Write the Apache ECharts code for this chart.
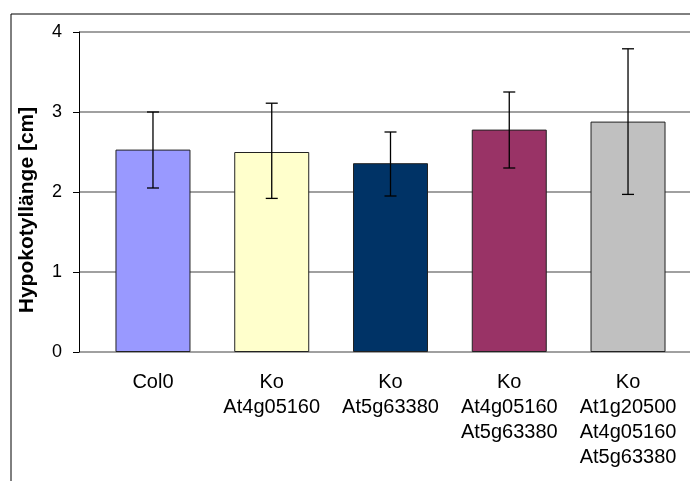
<!DOCTYPE html>
<html>
<head>
<meta charset="utf-8">
<script src="https://cdn.jsdelivr.net/npm/echarts@6/dist/echarts.min.js"></script>
<style>html,body{margin:0;padding:0;background:#fff}#c{width:690px;height:481px}</style>
</head>
<body>
<div id="c"></div>
<script>
const categories = ['Col0', 'Ko\nAt4g05160', 'Ko\nAt5g63380', 'Ko\nAt4g05160\nAt5g63380', 'Ko\nAt1g20500\nAt4g05160\nAt5g63380'];
const means = [2.53, 2.50, 2.36, 2.78, 2.88];
const errLow = [2.05, 1.92, 1.95, 2.30, 1.97];
const errHigh = [3.00, 3.11, 2.75, 3.25, 3.79];
const barColors = ['#9999FF', '#FFFFCC', '#003366', '#993366', '#C0C0C0'];
const yTicks = [0, 1, 2, 3, 4];

const chart = echarts.init(document.getElementById('c'), null, {renderer: 'canvas'});
const font = 'Liberation Sans, Arial, sans-serif';
chart.setOption({
  animation: false,
  backgroundColor: '#fff',
  graphic: [{
    type: 'rect', shape: {x: 11, y: 14, width: 800, height: 600},
    style: {fill: 'none', stroke: '#000', lineWidth: 1}, z: 100
  }],
  grid: [
    {left: 79, right: 0, top: 32, bottom: 129},
    {left: 93.6, width: 593.8, top: 32, bottom: 129}
  ],
  xAxis: [
    {gridIndex: 0, type: 'value', show: false, min: 0, max: 1},
    {gridIndex: 1, type: 'category', data: categories,
     axisLine: {show: false}, axisTick: {show: false},
     axisLabel: {fontFamily: font, fontSize: 20, color: '#000', lineHeight: 25, margin: 18, interval: 0}}
  ],
  yAxis: [
    {gridIndex: 0, type: 'value', min: yTicks[0], max: yTicks[yTicks.length - 1], interval: 1,
     name: 'Hypokotyllänge [cm]', nameLocation: 'middle', nameRotate: 90, nameGap: 41,
     nameTextStyle: {fontFamily: font, fontSize: 21, fontWeight: 'bold', color: '#000', padding: [0, 36, 0, 0]},
     axisLine: {show: true, lineStyle: {color: '#000', width: 1}},
     axisTick: {show: true, length: 6, lineStyle: {color: '#000'}},
     axisLabel: {fontFamily: font, fontSize: 18, color: '#000', margin: 17},
     splitLine: {show: true, lineStyle: {color: '#808080', width: 1.5}}},
    {gridIndex: 1, type: 'value', min: 0, max: 4, show: false, splitLine: {show: false}}
  ],
  series: [
    {type: 'bar', xAxisIndex: 1, yAxisIndex: 1, barWidth: 75,
     data: means.map((v, i) => ({value: v, itemStyle: {color: barColors[i]}})),
     itemStyle: {borderColor: '#222', borderWidth: 1}},
    {type: 'custom', xAxisIndex: 1, yAxisIndex: 1, z: 10,
     data: means.map((v, i) => [i, errLow[i], errHigh[i]]),
     renderItem: function (params, api) {
       const lo = api.coord([api.value(0), api.value(1)]);
       const hi = api.coord([api.value(0), api.value(2)]);
       const cw = 6;
       const st = {stroke: '#000', lineWidth: 1.3};
       return {type: 'group', children: [
         {type: 'line', shape: {x1: hi[0], y1: hi[1], x2: lo[0], y2: lo[1]}, style: st},
         {type: 'line', shape: {x1: hi[0] - cw, y1: hi[1], x2: hi[0] + cw, y2: hi[1]}, style: st},
         {type: 'line', shape: {x1: lo[0] - cw, y1: lo[1], x2: lo[0] + cw, y2: lo[1]}, style: st}
       ]};
     }}
  ]
});
</script>
</body>
</html>
